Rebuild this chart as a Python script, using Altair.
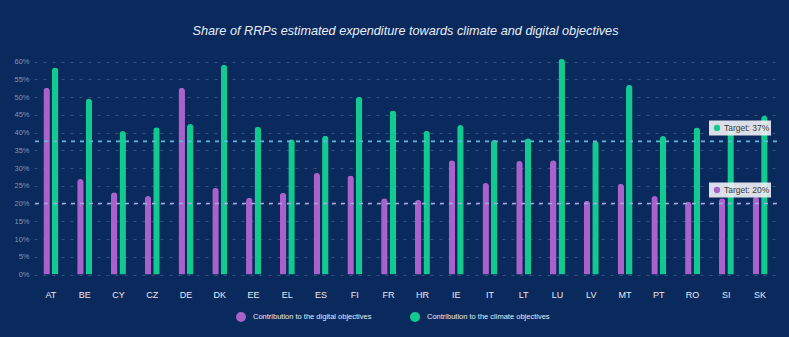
import altair as alt
import pandas as pd

countries = ["AT", "BE", "CY", "CZ", "DE", "DK", "EE", "EL", "ES", "FI", "FR",
             "HR", "IE", "IT", "LT", "LU", "LV", "MT", "PT", "RO", "SI", "SK"]
digital = [52.6, 26.9, 23.2, 22.1, 52.6, 24.4, 21.6, 23.0, 28.6, 27.9, 21.5,
           21.0, 32.2, 25.8, 32.0, 32.2, 20.8, 25.6, 22.1, 20.5, 21.5, 21.9]
climate = [58.3, 49.5, 40.4, 41.5, 42.4, 59.1, 41.6, 38.1, 39.1, 50.1, 46.2,
           40.5, 42.1, 37.9, 38.4, 60.8, 37.6, 53.4, 39.0, 41.4, 42.0, 44.7]
series_names = ["Contribution to the digital objectives",
                "Contribution to the climate objectives"]
series_colors = ["#a862c9", "#12c98f"]

target_values = [37.5, 20]
target_labels = ["Target: 37%", "Target: 20%"]
target_line_colors = ["#62b9d6", "#aaa6e0"]
target_dot_colors = ["#12c98f", "#a862c9"]

y_ticks = list(range(0, 61, 5))

rows = []
for c, d, k in zip(countries, digital, climate):
    rows.append({"country": c, "series": series_names[0], "value": d})
    rows.append({"country": c, "series": series_names[1], "value": k})
bars_df = pd.DataFrame(rows)

targets_df = pd.DataFrame({
    "value": target_values,
    "label": target_labels,
    "line_color": target_line_colors,
    "dot_color": target_dot_colors,
})

BG = "#0a295c"

y_scale = alt.Scale(domain=[0, 61], nice=False, zero=True)
y_axis = alt.Axis(values=y_ticks, labelExpr="datum.value + '%'",
                  labelColor="#8293b2", labelFontSize=7.5,
                  labelFont="Liberation Sans", labelPadding=5,
                  labelOverlap=False, tickCount=13,
                  ticks=False, domain=False, grid=True,
                  gridColor="#35527f", gridDash=[3, 6], gridWidth=1)

bars = alt.Chart(bars_df).mark_bar(
    width=6.5, cornerRadiusTopLeft=3.2, cornerRadiusTopRight=3.2
).encode(
    x=alt.X("country:N", sort=countries, title=None,
            scale=alt.Scale(paddingInner=0.497, paddingOuter=0.2485),
            axis=alt.Axis(labelAngle=0, labelColor="#e8ecf4", labelFontSize=9,
                          labelFont="Liberation Sans", labelPadding=16,
                          ticks=False, domain=False, grid=False)),
    xOffset=alt.XOffset("series:N", sort=series_names,
                        scale=alt.Scale(paddingInner=0, paddingOuter=0)),
    y=alt.Y("value:Q", scale=y_scale, title=None, axis=y_axis),
    color=alt.Color("series:N", sort=series_names,
                    scale=alt.Scale(domain=series_names, range=series_colors),
                    legend=alt.Legend(
                        orient="none", legendX=202, legendY=254,
                        direction="horizontal", title=None,
                        symbolType="circle", symbolSize=100,
                        symbolStrokeWidth=0, labelColor="#e8ecf4",
                        labelFontSize=7.5, labelFont="Liberation Sans",
                        labelOffset=7, columnPadding=38, padding=0)),
)

rules = alt.Chart(targets_df).mark_rule(strokeDash=[4, 5], strokeWidth=1.6).encode(
    y=alt.Y("value:Q", scale=y_scale, title=None, axis=y_axis),
    color=alt.Color("line_color:N", scale=None, legend=None),
)

box_path = "M-1,-0.242 L1,-0.242 L1,0.242 L-1,0.242 Z"
boxes = alt.Chart(targets_df).mark_point(
    shape=box_path, filled=True, size=62 * 62, opacity=0.92,
    color="#eceef4", yOffset=-13.5
).encode(
    x=alt.value(706),
    y=alt.Y("value:Q", scale=y_scale, title=None, axis=y_axis),
)

dots = alt.Chart(targets_df).mark_point(
    shape="circle", filled=True, size=40, opacity=1, yOffset=-13.5
).encode(
    x=alt.value(683),
    y=alt.Y("value:Q", scale=y_scale, title=None, axis=y_axis),
    color=alt.Color("dot_color:N", scale=None, legend=None),
)

labels = alt.Chart(targets_df).mark_text(
    align="left", baseline="middle", fontSize=8.5, font="Liberation Sans",
    color="#3a3a3a", yOffset=-13.5
).encode(
    x=alt.value(690),
    y=alt.Y("value:Q", scale=y_scale, title=None, axis=y_axis),
    text="label:N",
)

chart = alt.layer(bars, rules, boxes, dots, labels).properties(
    width=743, height=216.5,
    background=BG,
    padding={"left": 34, "top": 58, "right": 12, "bottom": 62.5},
    autosize=alt.AutoSizeParams(type="none"),
    title=alt.TitleParams(
        "Share of RRPs estimated expenditure towards climate and digital objectives",
        color="#e8eef8", fontSize=12.7, font="Liberation Sans", fontStyle="italic",
        fontWeight="normal", anchor="middle", offset=20),
).configure(background=BG, view=alt.ViewConfig(stroke=None, strokeWidth=0))

chart.save("out.html", embed_options={"renderer": "svg", "actions": False})
